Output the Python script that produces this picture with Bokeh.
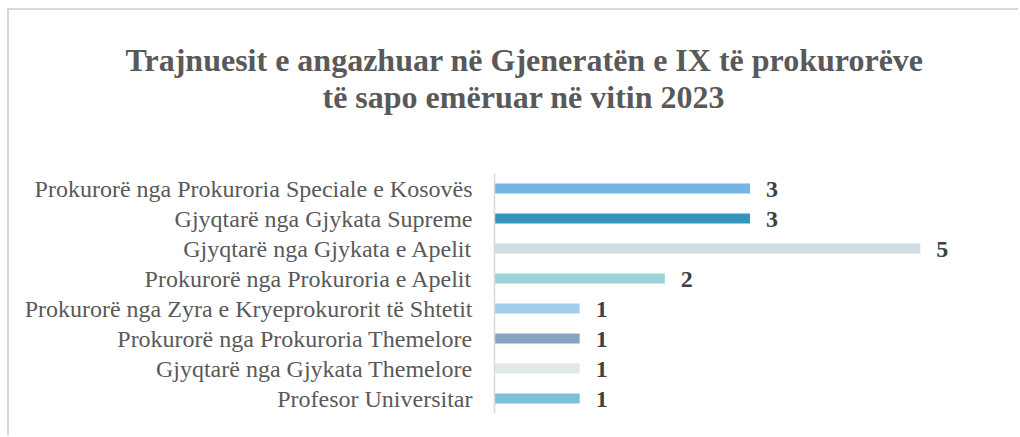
from bokeh.plotting import figure
from bokeh.models import ColumnDataSource, Title, Range1d, FactorRange
from bokeh.core.properties import value
from bokeh.embed import file_html
from bokeh.resources import INLINE

categories = [
    "Prokurorë nga Prokuroria Speciale e Kosovës",
    "Gjyqtarë nga Gjykata Supreme",
    "Gjyqtarë nga Gjykata e Apelit",
    "Prokurorë nga Prokuroria e Apelit",
    "Prokurorë nga Zyra e Kryeprokurorit të Shtetit",
    "Prokurorë nga Prokuroria Themelore",
    "Gjyqtarë nga Gjykata Themelore",
    "Profesor Universitar",
]
counts = [3, 3, 5, 2, 1, 1, 1, 1]
colors = ["#75b4e3", "#3594bb", "#d0dee4", "#9dd3d6",
          "#a4cdee", "#86a5c2", "#e2e7e8", "#7cc0da"]

title_line1 = "Trajnuesit e angazhuar në Gjeneratën e IX të prokurorëve"
title_line2 = "të sapo emëruar në vitin 2023"

FONT = "Liberation Serif"

src = ColumnDataSource(dict(cat=categories, val=counts, col=colors,
                            lab=[str(v) for v in counts]))

p = figure(width=1011, height=427, output_backend="svg", toolbar_location=None,
           y_range=FactorRange(factors=list(reversed(categories)), range_padding=0),
           x_range=Range1d(0, 6),
           min_border_left=485, min_border_right=15, min_border_top=163,
           min_border_bottom=24, outline_line_color=None)

def mk_title(txt, standoff, offset):
    t = Title(text=txt, align="left", text_font=FONT, text_font_size="32px",
              text_font_style="bold", text_color="#595959", offset=offset,
              standoff=standoff)
    return t

p.add_layout(mk_title(title_line2, 118, -172), "above")
p.add_layout(mk_title(title_line1, -120, -369), "above")

p.hbar(y="cat", right="val", left=0, height=0.33, fill_color="col",
       line_color=None, source=src)
p.text(x="val", y="cat", text="lab", source=src, x_offset=16, y_offset=1,
       text_baseline="middle", text_align="left", text_font=value(FONT),
       text_font_size="24px", text_font_style="bold", text_color="#404040")

p.xaxis.visible = False
p.xgrid.visible = False
p.ygrid.visible = False
ax = p.yaxis[0]
ax.axis_line_color = "#d9d9d9"
ax.axis_line_width = 1.5
ax.major_tick_line_color = None
ax.minor_tick_line_color = None
ax.major_label_standoff = 16
ax.major_label_text_font = FONT
ax.major_label_text_font_size = "24px"
ax.major_label_text_color = "#595959"

p.styles = {"margin-left": "7px", "margin-top": "8px",
            "border-top": "2px solid #d9d9d9", "border-left": "2px solid #d9d9d9"}

open("out.html", "w").write(file_html(p, INLINE))
